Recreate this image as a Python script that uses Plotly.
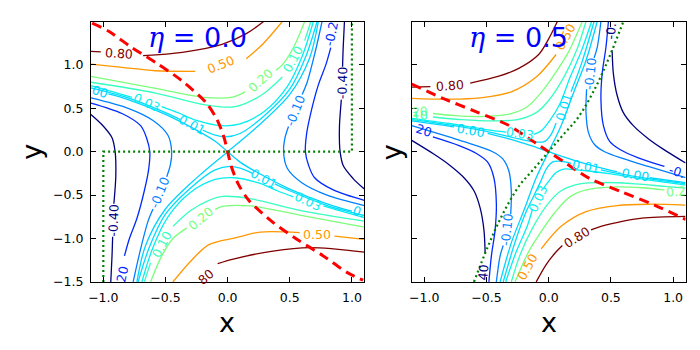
import plotly.graph_objects as go

# ---------------- DATA : left panel, eta = 0.0 (traced contour lines) ----------------
eta0_m040_x = [0.94, 0.93, 0.925, None, 0.915, 0.90, 0.90, 0.905, 0.93, 1.01, 1.10, None,
               -0.94, -0.93, -0.925, None, -0.915, -0.90, -0.90, -0.905, -0.93, -1.01, -1.10]
eta0_m040_y = [1.50, 1.20, 0.98, None, 0.60, 0.30, 0.10, 0.00, -0.16, -0.31, -0.43, None,
               -1.50, -1.20, -0.98, None, -0.60, -0.30, -0.10, 0.00, 0.16, 0.31, 0.43]
eta0_m020_x = [0.83, 0.79, 0.73, 0.67, 0.635, 0.626, 0.65, 0.70, 0.85, 1.10, None,
               -0.83, -0.79, -0.73, -0.67, -0.635, -0.626, -0.65, -0.70, -0.85, -1.10]
eta0_m020_y = [1.20, 1.00, 0.77, 0.45, 0.20, 0.00, -0.15, -0.30, -0.44, -0.56, None,
               -1.20, -1.00, -0.77, -0.45, -0.20, 0.00, 0.15, 0.30, 0.44, 0.56]
eta0_m010_x = [0.76, 0.706, 0.64, 0.60, None, 0.49, 0.46, 0.45, 0.48, 0.60, 0.80, 1.10, None,
               -0.76, -0.706, -0.64, -0.60, None, -0.49, -0.46, -0.45, -0.48, -0.60, -0.80, -1.10]
eta0_m010_y = [1.50, 1.157, 0.80, 0.66, None, 0.29, 0.15, 0.00, -0.19, -0.36, -0.50, -0.62, None,
               -1.50, -1.157, -0.80, -0.66, None, -0.29, -0.15, 0.00, 0.19, 0.36, 0.50, 0.62]
eta0_zero_x = [-0.96, -0.80, -0.50, -0.24, -0.10, 0.00, 0.10, 0.24, 0.50, 0.80, 1.00, None,
               -0.73, -0.66, -0.50, -0.24, 0.00, 0.24, 0.50, 0.66, 0.73]
eta0_zero_y = [0.665, 0.60, 0.43, 0.24, 0.12, 0.00, -0.12, -0.24, -0.43, -0.60, -0.685, None,
               -1.50, -1.08, -0.66, -0.29, 0.00, 0.29, 0.66, 1.08, 1.50]
eta0_p001_x = [-1.10, -0.80, -0.50, -0.38, None, -0.20, -0.10, -0.02, 0.10, 0.30, 0.50, 0.63, 0.72, None,
               1.10, 0.80, 0.50, 0.38, None, 0.20, 0.10, 0.02, -0.10, -0.30, -0.50, -0.63, -0.72]
eta0_p001_y = [0.735, 0.62, 0.45, 0.37, None, 0.25, 0.19, 0.17, 0.21, 0.42, 0.72, 1.10, 1.50, None,
               -0.735, -0.62, -0.45, -0.37, None, -0.25, -0.19, -0.17, -0.21, -0.42, -0.72, -1.10, -1.50]
eta0_p003_x = [-1.10, -0.90, -0.77, None, -0.53, -0.40, -0.25, -0.05, 0.10, 0.30, 0.48, 0.60, 0.69, None,
               1.10, 0.90, 0.77, None, 0.53, 0.40, 0.25, 0.05, -0.10, -0.30, -0.48, -0.60, -0.69]
eta0_p003_y = [0.76, 0.68, 0.625, None, 0.52, 0.45, 0.36, 0.30, 0.32, 0.47, 0.75, 1.10, 1.50, None,
               -0.76, -0.68, -0.625, None, -0.52, -0.45, -0.36, -0.30, -0.32, -0.47, -0.75, -1.10, -1.50]
eta0_p010_x = [-1.10, -0.58, -0.18, 0.04, 0.15, 0.30, 0.44, None, 0.62, 0.67, None,
               1.10, 0.58, 0.18, -0.04, -0.15, -0.30, -0.44, None, -0.62, -0.67]
eta0_p010_y = [0.80, 0.676, 0.54, 0.515, 0.56, 0.68, 0.86, None, 1.28, 1.50, None,
               -0.80, -0.676, -0.54, -0.515, -0.56, -0.68, -0.86, None, -1.28, -1.50]
eta0_p020_x = [-1.10, -0.58, -0.185, 0.04, 0.14, None, 0.39, 0.44, 0.53, 0.62, None,
               1.10, 0.58, 0.185, -0.04, -0.10, None, -0.33, -0.44, -0.53, -0.62]
eta0_p020_y = [0.869, 0.73, 0.625, 0.63, 0.69, None, 0.94, 1.00, 1.20, 1.50, None,
               -0.869, -0.73, -0.625, -0.63, -0.665, None, -0.88, -1.00, -1.20, -1.50]
eta0_p050_x = [-1.10, -0.85, -0.58, -0.26, None, 0.15, 0.29, 0.44, None,
               -0.44, -0.29, -0.15, 0.07, 0.26, 0.58, None, 0.86, 1.10]
eta0_p050_y = [1.01, 0.972, 0.933, 0.926, None, 1.07, 1.25, 1.50, None,
               -1.50, -1.25, -1.07, -0.99, -0.926, -0.933, None, -0.972, -1.01]
eta0_p080_x = [-1.10, -1.02, None, -0.68, -0.365, -0.045, 0.15, 0.29, None,
               -0.08, 0.045, 0.365, 0.66, 1.10]
eta0_p080_y = [1.157, 1.15, None, 1.106, 1.145, 1.237, 1.36, 1.50, None,
               -1.29, -1.237, -1.145, -1.106, -1.157]
eta0_red_x = [-1.09, -0.96, -0.77, -0.56, -0.37, -0.17, -0.085, -0.03, 0.0, 0.03, 0.085, 0.17, 0.37, 0.56, 0.77, 0.96, 1.09]
eta0_red_y = [1.48, 1.39, 1.20, 1.01, 0.82, 0.56, 0.37, 0.17, 0.0, -0.17, -0.37, -0.56, -0.82, -1.01, -1.20, -1.39, -1.48]
eta0_green_x = [-1.0, -1.0, 1.0, 1.0]
eta0_green_y = [-1.5, 0.0, 0.0, 1.5]

eta0_label_text = ["0.80", "0.50", "0.20", "0.10", "0.03", "0.01", "00", "-0.10", "-0.40", "-0.2",
                   "80", "0.50", "0.20", "0.10", "0.03", "0.01", "0.", "-0.10", "-0.40", "20"]
eta0_label_x = [-0.87, -0.055, 0.265, 0.53, -0.65, -0.29, -1.03, 0.545, 0.92, 0.835,
                -0.17, 0.72, -0.215, -0.53, 0.65, 0.29, 1.055, -0.545, -0.92, -0.85]
eta0_label_y = [1.13, 1.0, 0.815, 1.07, 0.572, 0.31, 0.69, 0.475, 0.79, 1.36,
                -1.44, -0.95, -0.77, -1.07, -0.572, -0.31, -0.685, -0.475, -0.79, -1.41]
eta0_label_angle = [4, -22, -42, -62, 25, 28, 20, -68, -88, -78,
                    -40, 0, -40, -62, 25, 28, 20, -68, -88, -78]
eta0_label_level = [0.8, 0.5, 0.2, 0.1, 0.03, 0.01, 0.0, -0.1, -0.4, -0.2,
                    0.8, 0.5, 0.2, 0.1, 0.03, 0.01, 0.0, -0.1, -0.4, -0.2]

# ---------------- DATA : right panel, eta = 0.5 ----------------
eta5_m040_x = [0.51, 0.52, 0.55, 0.60, 0.68, 0.80, 0.92, 1.10, None,
               -0.51, -0.52, -0.55, -0.60, -0.68, -0.80, -0.92, -1.10]
eta5_m040_y = [1.17, 0.90, 0.65, 0.45, 0.30, 0.15, 0.03, -0.13, None,
               -1.17, -0.90, -0.65, -0.45, -0.30, -0.15, -0.03, 0.13]
eta5_m020_x = [0.48, 0.46, 0.43, 0.42, 0.44, 0.49, 0.58, 0.72, 0.93, None,
               -0.48, -0.46, -0.43, -0.42, -0.44, -0.49, -0.58, -0.72, -0.93]
eta5_m020_y = [1.50, 1.20, 0.90, 0.60, 0.30, 0.12, 0.02, -0.07, -0.17, None,
               -1.50, -1.20, -0.90, -0.60, -0.30, -0.12, -0.02, 0.07, 0.17]
eta5_m010_x = [0.42, 0.39, 0.365, None, 0.305, 0.30, 0.32, 0.37, 0.45, 0.60, 0.80, 1.10, None,
               -0.42, -0.39, -0.365, None, -0.305, -0.30, -0.32, -0.37, -0.45, -0.60, -0.80, -1.10]
eta5_m010_y = [1.50, 1.20, 1.08, None, 0.72, 0.45, 0.22, 0.08, 0.00, -0.08, -0.17, -0.30, None,
               -1.50, -1.20, -1.08, None, -0.72, -0.45, -0.22, -0.08, 0.00, 0.08, 0.17, 0.30]
eta5_zero_x = [-1.10, -0.80, -0.76, None, -0.49, -0.25, -0.10, 0.00, 0.10, 0.25, 0.50, 0.55, None, 0.81, 1.10, None,
               -0.39, -0.30, -0.20, -0.10, 0.00, 0.10, 0.20, 0.30, 0.39]
eta5_zero_y = [0.355, 0.295, 0.285, None, 0.21, 0.12, 0.05, 0.00, -0.05, -0.12, -0.215, -0.23, None, -0.30, -0.355, None,
               -1.50, -1.05, -0.68, -0.30, 0.00, 0.30, 0.68, 1.05, 1.50]
eta5_p001_x = [-1.10, -0.80, -0.50, -0.25, -0.10, -0.03, 0.02, 0.06, None, 0.18, 0.265, 0.365, None,
               1.10, 0.80, 0.50, 0.42, None, 0.18, 0.10, 0.03, -0.02, -0.06, -0.12, -0.18, -0.265, -0.365]
eta5_p001_y = [0.37, 0.31, 0.235, 0.15, 0.11, 0.12, 0.20, 0.33, None, 0.69, 1.02, 1.50, None,
               -0.37, -0.31, -0.235, -0.21, None, -0.135, -0.11, -0.12, -0.20, -0.33, -0.51, -0.69, -1.02, -1.50]
eta5_p003_x = [-1.10, -0.80, -0.50, -0.34, None, -0.12, -0.06, 0.01, 0.09, 0.17, 0.26, 0.345, None,
               1.10, 0.80, 0.50, 0.34, 0.23, 0.12, 0.06, -0.01, -0.04, None, -0.13, -0.17, -0.26, -0.345]
eta5_p003_y = [0.385, 0.325, 0.255, 0.225, None, 0.20, 0.24, 0.36, 0.55, 0.85, 1.15, 1.50, None,
               -0.385, -0.325, -0.255, -0.225, -0.21, -0.20, -0.24, -0.36, -0.42, None, -0.66, -0.85, -1.15, -1.50]
eta5_p010_x = [-0.93, -0.70, -0.45, -0.25, -0.10, 0.00, 0.13, 0.23, 0.30, None,
               1.10, 0.93, 0.70, 0.45, 0.25, 0.10, 0.00, -0.13, -0.23, -0.30]
eta5_p010_y = [0.40, 0.37, 0.355, 0.37, 0.45, 0.59, 0.88, 1.19, 1.50, None,
               -0.42, -0.40, -0.37, -0.355, -0.37, -0.45, -0.59, -0.88, -1.19, -1.50]
eta5_p020_x = [-0.93, -0.75, -0.55, -0.30, -0.17, -0.05, 0.06, 0.16, 0.27, None,
               0.93, 0.75, 0.55, 0.30, 0.17, 0.05, -0.06, -0.16, -0.27]
eta5_p020_y = [0.44, 0.415, 0.405, 0.44, 0.52, 0.70, 0.92, 1.15, 1.50, None,
               -0.44, -0.415, -0.405, -0.44, -0.52, -0.70, -0.92, -1.15, -1.50]
eta5_p050_x = [-1.10, -0.80, -0.55, -0.30, -0.10, 0.06, None, 1.10, 0.80, 0.55, 0.30, 0.10, -0.06]
eta5_p050_y = [0.615, 0.605, 0.62, 0.69, 0.86, 1.12, None, -0.615, -0.605, -0.62, -0.69, -0.86, -1.12]
eta5_p080_x = [-1.10, -0.95, None, -0.63, -0.40, -0.24, -0.08, 0.00, 0.07, None,
               1.10, 0.75, 0.60, 0.42, 0.34, None, 0.11, 0.05, -0.02, -0.10]
eta5_p080_y = [0.745, 0.75, None, 0.79, 0.87, 0.96, 1.12, 1.30, 1.50, None,
               -0.745, -0.764, -0.80, -0.86, -0.90, None, -1.08, -1.17, -1.30, -1.50]
eta5_red_x = [-1.10, -0.85, -0.59, -0.33, -0.11, 0.0, 0.11, 0.33, 0.59, 0.85, 1.10]
eta5_red_y = [0.78, 0.615, 0.465, 0.31, 0.105, 0.0, -0.105, -0.31, -0.465, -0.615, -0.78]
eta5_green_x = [-0.60, -0.49, -0.38, -0.24, -0.12, 0.0, 0.12, 0.24, 0.38, 0.49, 0.60]
eta5_green_y = [-1.50, -1.10, -0.75, -0.40, -0.20, 0.0, 0.20, 0.40, 0.75, 1.10, 1.50]

eta5_label_text = ["0.80", "0.50", "20", "10", "20", "0.00", "0.03", "0.01", "-0.10", "-0.",
                   "0.80", "0.50", "0.2", "-0.", "-0.00", "0.01", "0.03", "-0.10", "40"]
eta5_label_x = [-0.79, 0.135, -1.03, -1.035, -1.0, -0.625, -0.23, 0.12, 0.335, 0.50,
                0.225, -0.17, 1.02, 1.03, 0.68, 0.30, -0.085, -0.335, -0.527]
eta5_label_y = [0.765, 1.33, 0.466, 0.417, 0.245, 0.248, 0.212, 0.51, 0.90, 1.385,
                -0.99, -1.32, -0.455, -0.225, -0.265, -0.17, -0.54, -0.90, -1.39]
eta5_label_angle = [-4, -62, -5, -5, 18, 10, 8, -73, -84, -85,
                    -32, -62, -5, 18, 10, 10, -65, -84, -85]
eta5_label_level = [0.8, 0.5, 0.2, 0.1, -0.2, 0.0, 0.03, 0.01, -0.1, -0.4,
                    0.8, 0.5, 0.2, -0.2, 0.0, 0.01, 0.03, -0.1, -0.4]

x_tick_vals = [-1.0, -0.5, 0.0, 0.5, 1.0]
x_tick_text = ["\u22121.0", "\u22120.5", "0.0", "0.5", "1.0"]
y_tick_vals = [-1.5, -1.0, -0.5, 0.0, 0.5, 1.0]
y_tick_text = ["\u22121.5", "\u22121.0", "\u22120.5", "0.0", "0.5", "1.0"]
panel_titles = ["0.0", "0.5"]

# ---------------- styles ----------------
LEVEL_COLOR = {-0.4: "#00007f", -0.2: "#002aff", -0.1: "#0080ff", 0.0: "#00d4ff",
               0.01: "#00ddff", 0.03: "#07eef0", 0.1: "#37ffc0", 0.2: "#7bff7b",
               0.5: "#ff9700", 0.8: "#7f0000"}

panels = [
    dict(xa="x", ya="y", xlab=(0.3214, 0.0612), ylab=(0.0414, 0.557),
         lines=[(-0.4, eta0_m040_x, eta0_m040_y), (-0.2, eta0_m020_x, eta0_m020_y),
                (-0.1, eta0_m010_x, eta0_m010_y), (0.0, eta0_zero_x, eta0_zero_y),
                (0.01, eta0_p001_x, eta0_p001_y), (0.03, eta0_p003_x, eta0_p003_y),
                (0.1, eta0_p010_x, eta0_p010_y), (0.2, eta0_p020_x, eta0_p020_y),
                (0.5, eta0_p050_x, eta0_p050_y), (0.8, eta0_p080_x, eta0_p080_y)],
         red=(eta0_red_x, eta0_red_y), green=(eta0_green_x, eta0_green_y), gshape="linear",
         labels=(eta0_label_text, eta0_label_x, eta0_label_y, eta0_label_angle, eta0_label_level)),
    dict(xa="x2", ya="y2", xlab=(0.7829, 0.0612), ylab=(0.5586, 0.557),
         lines=[(-0.4, eta5_m040_x, eta5_m040_y), (-0.2, eta5_m020_x, eta5_m020_y),
                (-0.1, eta5_m010_x, eta5_m010_y), (0.0, eta5_zero_x, eta5_zero_y),
                (0.01, eta5_p001_x, eta5_p001_y), (0.03, eta5_p003_x, eta5_p003_y),
                (0.1, eta5_p010_x, eta5_p010_y), (0.2, eta5_p020_x, eta5_p020_y),
                (0.5, eta5_p050_x, eta5_p050_y), (0.8, eta5_p080_x, eta5_p080_y)],
         red=(eta5_red_x, eta5_red_y), green=(eta5_green_x, eta5_green_y), gshape="spline",
         labels=(eta5_label_text, eta5_label_x, eta5_label_y, eta5_label_angle, eta5_label_level)),
]

fig = go.Figure()
annotations = []
for i, p in enumerate(panels):
    for lev, xs, ys in p["lines"]:
        fig.add_trace(go.Scatter(x=xs, y=ys, mode="lines", xaxis=p["xa"], yaxis=p["ya"],
                                 line=dict(color=LEVEL_COLOR[lev], width=1.3, shape="spline", smoothing=0.9),
                                 connectgaps=False, hoverinfo="skip", showlegend=False))
    fig.add_trace(go.Scatter(x=p["red"][0], y=p["red"][1], mode="lines", xaxis=p["xa"], yaxis=p["ya"],
                             line=dict(color="#ff0000", width=3, dash="10px,6px", shape="spline", smoothing=0.8),
                             hoverinfo="skip", showlegend=False))
    fig.add_trace(go.Scatter(x=p["green"][0], y=p["green"][1], mode="lines", xaxis=p["xa"], yaxis=p["ya"],
                             line=dict(color="#008000", width=2.2, dash="2px,3px", shape=p["gshape"]),
                             hoverinfo="skip", showlegend=False))
    txt, lx, ly, la, ll = p["labels"]
    for t, x, y, a, l in zip(txt, lx, ly, la, ll):
        annotations.append(dict(x=x, y=y, xref=p["xa"], yref=p["ya"], text=t, showarrow=False,
                                xanchor="center", yanchor="middle", textangle=a,
                                font=dict(family="DejaVu Sans", size=12.5, color=LEVEL_COLOR[l])))
    # panel title (eta = ...)
    annotations.append(dict(x=-0.245, y=1.31, xref=p["xa"], yref=p["ya"], showarrow=False,
                            xanchor="center", yanchor="middle",
                            text="<span style='font-family:DejaVu Serif'><i>\u03b7</i> = </span>" + panel_titles[i],
                            font=dict(family="DejaVu Sans", size=27, color="#0000ff")))
    # axis titles
    annotations.append(dict(x=p["xlab"][0], y=p["xlab"][1], xref="paper", yref="paper", text="x",
                            showarrow=False, xanchor="center", yanchor="middle",
                            font=dict(family="DejaVu Sans", size=27, color="black")))
    annotations.append(dict(x=p["ylab"][0], y=p["ylab"][1], xref="paper", yref="paper", text="y",
                            showarrow=False, xanchor="center", yanchor="middle", textangle=-90,
                            font=dict(family="DejaVu Sans", size=27, color="black")))

axis_common = dict(showline=True, linecolor="black", linewidth=1, mirror="ticks", ticks="inside",
                   ticklen=5, tickcolor="black", showgrid=False, zeroline=False,
                   tickfont=dict(family="DejaVu Sans", size=12.5, color="black"))

YDOM = [0.1781, 0.9373]
fig.update_layout(
    width=700, height=350, autosize=False,
    margin=dict(l=0, r=0, t=0, b=0),
    paper_bgcolor="white", plot_bgcolor="white",
    showlegend=False,
    xaxis=dict(domain=[0.1261, 0.5184], range=[-1.1, 1.1], anchor="y",
               tickvals=x_tick_vals, ticktext=x_tick_text, ticklabelstandoff=4, **axis_common),
    yaxis=dict(domain=YDOM, range=[-1.5, 1.5], anchor="x",
               tickvals=y_tick_vals, ticktext=y_tick_text, ticklabelstandoff=4, **axis_common),
    xaxis2=dict(domain=[0.5864, 0.9793], range=[-1.1, 1.1], anchor="y2",
                tickvals=x_tick_vals, ticktext=x_tick_text, ticklabelstandoff=4, **axis_common),
    yaxis2=dict(domain=YDOM, range=[-1.5, 1.5], anchor="x2",
                tickvals=y_tick_vals, showticklabels=False, **axis_common),
    annotations=annotations,
)

fig.write_html("out.html")
